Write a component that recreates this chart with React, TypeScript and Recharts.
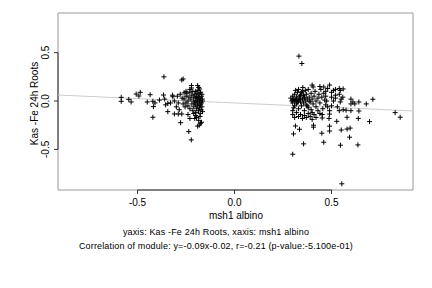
import { ScatterChart, Scatter, XAxis, YAxis, ReferenceArea, ReferenceLine } from "recharts";

// msh1 albino (x) vs Kas -Fe 24h Roots (y), two groups of genes
const leftGroup: [number, number][] = [
  [-0.584, 0.038], [-0.584, -0.003], [-0.545, 0.017], [-0.533, -0.01], [-0.507, 0.072],
  [-0.486, 0.09], [-0.493, 0.052], [-0.45, -0.01], [-0.435, 0.065], [-0.421, -0.003],
  [-0.41, -0.02], [-0.418, -0.058], [-0.421, -0.168], [-0.387, 0.01], [-0.366, 0.062],
  [-0.36, 0.02], [-0.344, -0.024], [-0.344, -0.11], [-0.33, -0.02], [-0.318, 0.044],
  [-0.31, -0.134], [-0.29, -0.134], [-0.272, -0.134], [-0.278, -0.224], [-0.236, -0.316],
  [-0.223, -0.402], [-0.364, 0.25], [-0.272, 0.217], [-0.265, 0.228], [-0.222, 0.16],
  [-0.222, 0.135], [-0.19, 0.16], [-0.185, 0.14], [-0.18, 0.125], [-0.196, -0.17],
  [-0.205, -0.18], [-0.19, -0.26], [-0.182, -0.25], [-0.24, -0.14], [-0.23, -0.18],
  [-0.355, -0.04], [-0.3, -0.06], [-0.31, 0.0], [-0.32, 0.06], [-0.295, 0.05],
  [-0.29, -0.02], [-0.28, 0.07], [-0.285, -0.09], [-0.26, 0.085], [-0.255, -0.06],
  [-0.26, 0.02], [-0.25, 0.05], [-0.25, -0.02], [-0.245, 0.08], [-0.24, 0.0],
  [-0.24, -0.05], [-0.235, 0.04], [-0.23, 0.09], [-0.23, -0.08], [-0.225, 0.02],
  [-0.22, -0.03], [-0.22, 0.06], [-0.215, 0.1], [-0.215, -0.1], [-0.21, 0.0],
  [-0.21, 0.04], [-0.21, -0.06], [-0.205, 0.07], [-0.205, -0.02], [-0.2, 0.03],
  [-0.2, -0.04], [-0.2, 0.1], [-0.2, -0.12], [-0.198, 0.0], [-0.195, 0.05],
  [-0.195, -0.08], [-0.193, 0.08], [-0.19, -0.01], [-0.19, 0.02], [-0.19, -0.05],
  [-0.188, 0.11], [-0.186, -0.1], [-0.185, 0.04], [-0.183, -0.03], [-0.182, 0.07],
  [-0.18, 0.0], [-0.18, -0.07], [-0.178, 0.03], [-0.177, -0.13], [-0.175, 0.09],
  [-0.175, -0.04], [-0.173, 0.01], [-0.172, -0.09], [-0.17, 0.05], [-0.17, -0.02],
  [-0.168, 0.07], [-0.168, -0.06], [-0.166, 0.02], [-0.165, -0.11], [-0.165, 0.0],
  [-0.178, -0.16], [-0.185, -0.2], [-0.2, -0.15], [-0.21, -0.13], [-0.175, -0.23],
  [-0.17, -0.22], [-0.23, 0.12], [-0.27, 0.03], [-0.265, -0.03], [-0.25, 0.1],
];

const rightGroup: [number, number][] = [
  [0.332, 0.464], [0.347, 0.388], [0.3, -0.55], [0.553, -0.856], [0.713, 0.018],
  [0.679, -0.03], [0.641, -0.01], [0.641, -0.103], [0.638, -0.18], [0.696, -0.213],
  [0.828, -0.12], [0.854, -0.168], [0.596, -0.28], [0.593, -0.374], [0.636, -0.454],
  [0.546, -0.457], [0.46, -0.426], [0.356, -0.443], [0.304, -0.34], [0.314, -0.258],
  [0.335, -0.292], [0.45, -0.333], [0.49, -0.31], [0.55, -0.3], [0.58, -0.29],
  [0.407, -0.25], [0.407, -0.27], [0.452, -0.175], [0.452, -0.14], [0.49, -0.1],
  [0.49, -0.135], [0.487, -0.18], [0.527, -0.21], [0.49, -0.26], [0.58, -0.168],
  [0.54, -0.1], [0.56, -0.09], [0.6, -0.1], [0.575, -0.095], [0.49, 0.165],
  [0.4, 0.165], [0.405, 0.145], [0.44, 0.15], [0.46, 0.145], [0.352, 0.14],
  [0.33, 0.12], [0.52, 0.12], [0.54, 0.13], [0.56, 0.125], [0.545, 0.11],
  [0.51, 0.11], [0.558, 0.04], [0.6, 0.02], [0.61, -0.01], [0.6, -0.03],
  [0.62, -0.03], [0.545, -0.01], [0.5, 0.04], [0.475, 0.0], [0.48, -0.06],
  [0.52, 0.06], [0.29, 0.03], [0.295, 0.0], [0.3, 0.05], [0.3, -0.02],
  [0.305, 0.02], [0.31, -0.05], [0.31, 0.07], [0.315, 0.01], [0.32, 0.04],
  [0.32, -0.03], [0.325, 0.09], [0.33, 0.0], [0.33, -0.08], [0.335, 0.03],
  [0.34, 0.06], [0.34, -0.01], [0.345, -0.05], [0.35, 0.02], [0.35, 0.1],
  [0.355, -0.02], [0.36, 0.04], [0.36, -0.1], [0.365, 0.0], [0.37, 0.07],
  [0.37, -0.04], [0.375, 0.02], [0.38, -0.07], [0.38, 0.12], [0.385, 0.04],
  [0.39, -0.01], [0.395, 0.08], [0.4, 0.02], [0.4, -0.12], [0.405, -0.03],
  [0.41, 0.05], [0.415, 0.1], [0.42, 0.0], [0.42, -0.06], [0.43, 0.03],
  [0.435, 0.07], [0.44, -0.02], [0.445, 0.12], [0.45, 0.04], [0.455, -0.08],
  [0.46, 0.08], [0.465, 0.01], [0.47, 0.05], [0.3, -0.14], [0.31, -0.17],
  [0.32, -0.12], [0.33, -0.16], [0.34, -0.14], [0.35, -0.18], [0.36, -0.15],
  [0.37, -0.17], [0.38, -0.13], [0.39, -0.16], [0.4, -0.19], [0.41, -0.14],
  [0.42, -0.17], [0.3, -0.1], [0.305, -0.07], [0.315, 0.11], [0.325, -0.01],
  [0.335, 0.05], [0.345, 0.09], [0.355, 0.06], [0.365, 0.11], [0.375, -0.05],
  [0.385, 0.0], [0.395, -0.09], [0.31, 0.0], [0.32, 0.02], [0.3, 0.01],
  [0.34, 0.01], [0.36, 0.03], [0.43, -0.1], [0.44, -0.13], [0.47, -0.04],
  [0.5, -0.05], [0.51, 0.0], [0.52, 0.03], [0.53, -0.06], [0.54, 0.07],
  [0.55, 0.02], [0.47, 0.1], [0.48, 0.13], [0.5, 0.09],
];

const fitSlope = -0.09;
const fitIntercept = -0.02;
const xDomain: [number, number] = [-0.91, 0.92];
const yDomain: [number, number] = [-0.92, 0.91];
const xTicks = [-0.5, 0, 0.5];
const yTicks = [-0.5, 0, 0.5];

const points = [...leftGroup, ...rightGroup].map(([x, y]) => ({ x, y }));
const fitLine = xDomain.map((x) => ({ x, y: fitSlope * x + fitIntercept }));

const font = "'Liberation Sans', Arial, sans-serif";

const Plus = ({ cx, cy }: any) => (
  <path d={`M${cx - 2.5},${cy}H${cx + 2.5}M${cx},${cy - 2.5}V${cy + 2.5}`} stroke="#000" strokeWidth={1} fill="none" />
);

const XTick = ({ x, y, payload }: any) => (
  <text x={x} y={y + 10} textAnchor="middle" fontSize={10} fontFamily={font} fill="#000">
    {payload.value.toFixed(1)}
  </text>
);

const YTick = ({ x, y, payload }: any) => (
  <text x={x - 3} y={y} transform={`rotate(-90 ${x - 3} ${y})`} textAnchor="middle" fontSize={10} fontFamily={font} fill="#000">
    {payload.value.toFixed(1)}
  </text>
);

const caption = { position: "absolute" as const, left: 0, width: 432, textAlign: "center" as const, fontFamily: font, fontSize: 9, color: "#000", letterSpacing: 0.15 };

export default function App() {
  return (
    <div style={{ position: "absolute", left: 0, top: 0, width: 432, height: 288, background: "#fff" }}>
      <ScatterChart width={432} height={288} margin={{ top: 13, right: 19, bottom: 68, left: 0 }}>
        <XAxis
          type="number"
          dataKey="x"
          domain={xDomain}
          ticks={xTicks}
          allowDataOverflow
          axisLine={false}
          tickLine={{ stroke: "#333" }}
          tickSize={4}
          height={30}
          tick={<XTick />}
        />
        <YAxis
          type="number"
          dataKey="y"
          domain={yDomain}
          ticks={yTicks}
          allowDataOverflow
          axisLine={false}
          tickLine={{ stroke: "#333" }}
          tickSize={4}
          width={58}
          tick={<YTick />}
        />
        <ReferenceArea x1={xDomain[0]} x2={xDomain[1]} y1={yDomain[0]} y2={yDomain[1]} fill="none" stroke="#999" strokeWidth={1} ifOverflow="visible" />
        <ReferenceLine segment={[{ x: xTicks[0], y: yDomain[0] }, { x: xTicks[2], y: yDomain[0] }]} stroke="#333" />
        <ReferenceLine segment={[{ x: xDomain[0], y: yTicks[0] }, { x: xDomain[0], y: yTicks[2] }]} stroke="#333" />
        <Scatter data={fitLine} line={{ stroke: "#cccccc", strokeWidth: 1 }} shape={() => <g />} isAnimationActive={false} />
        <Scatter data={points} shape={<Plus />} isAnimationActive={false} />
      </ScatterChart>
      <div style={{ position: "absolute", left: -26, top: 98, width: 120, textAlign: "center", fontFamily: font, fontSize: 10, transform: "rotate(-90deg)", whiteSpace: "nowrap" }}>
        Kas -Fe 24h Roots
      </div>
      <div style={{ ...caption, left: 176, width: 120, top: 210, fontSize: 10, letterSpacing: 0 }}>msh1 albino</div>
      <div style={{ ...caption, top: 227 }}>yaxis: Kas -Fe 24h Roots, xaxis: msh1 albino</div>
      <div style={{ ...caption, top: 241 }}>Correlation of module: y=-0.09x-0.02, r=-0.21 (p-value:-5.100e-01)</div>
    </div>
  );
}
